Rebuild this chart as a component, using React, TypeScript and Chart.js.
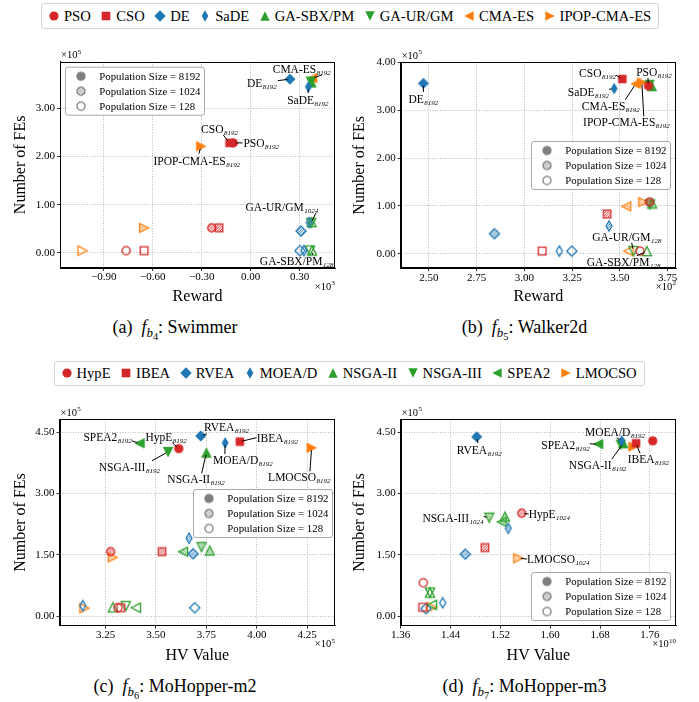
import React, { useEffect, useRef } from 'react';
import { Chart, registerables } from 'chart.js';

Chart.register(...registerables);

const SERIF = "'Liberation Serif', 'Times New Roman', Times, serif";

// ---------------- data ----------------
const rlAlgorithms = ['PSO', 'CSO', 'DE', 'SaDE', 'GA-SBX/PM', 'GA-UR/GM', 'CMA-ES', 'IPOP-CMA-ES'];
const moAlgorithms = ['HypE', 'IBEA', 'RVEA', 'MOEA/D', 'NSGA-II', 'NSGA-III', 'SPEA2', 'LMOCSO'];
const populationSizes = [8192, 1024, 128];

// (a) Swimmer: reward, number of FEs
const swimmerReward8192 = [-107, -130, 240, 353, 372, 368, 377, -304];
const swimmerFEs8192 = [228000, 228000, 360000, 344000, 353000, 355000, 362000, 221000];
const swimmerReward1024 = [-239, -194, 308, 358, 373, 370, null, -653];
const swimmerFEs1024 = [52000, 52000, 45500, 63000, 64000, 62000, null, 52000];
const swimmerReward128 = [-763, -653, 302, 326, 375, 363, null, -1030];
const swimmerFEs128 = [4800, 4800, 4800, 4800, 5000, 5000, null, 4800];

// (b) Walker2d
const walkerReward8192 = [364.9, 351.3, 247.1, 347.0, 366.7, 365.5, 358.3, 361.5];
const walkerFEs8192 = [351000, 365000, 356000, 345000, 350000, 353000, 355000, 358000];
const walkerReward1024 = [365.5, 343.3, 284.3, 344.3, 366.9, 365.8, 353.3, 362.3];
const walkerFEs1024 = [108000, 83000, 42000, 58000, 105000, 103000, 99000, 108000];
const walkerReward128 = [360.6, 309.3, 324.8, 318.3, 364.1, 357.1, 354.5, null];
const walkerFEs128 = [5600, 5600, 5600, 5600, 5600, 5600, 5600, null];

// (c) MoHopper-m2: HV value, number of FEs
const m2HV8192 = [361300, 391600, 372200, 384300, 375000, 356000, 341900, 427200];
const m2FEs8192 = [410000, 427000, 441000, 424000, 400000, 402000, 423000, 412000];
const m2HV1024 = [327500, 353000, 368400, 366400, 376700, 372600, 363400, 328600];
const m2FEs1024 = [158000, 158000, 153000, 191000, 161000, 169000, 158000, 144000];
const m2HV128 = [331100, 332500, 369200, 313700, 328600, 335000, 340000, 314500];
const m2FEs128 = [21000, 21000, 21000, 26000, 22000, 25000, 21000, 20000];

// (d) MoHopper-m3
const m3HV8192 = [1.7646e10, 1.7378e10, 1.482e10, 1.7148e10, 1.7174e10, 1.7132e10, 1.6772e10, 1.7334e10];
const m3FEs8192 = [429000, 423000, 439000, 429000, 423000, 420000, 421000, 415000];
const m3HV1024 = [1.5543e10, 1.4953e10, 1.4637e10, 1.5327e10, 1.5274e10, 1.5022e10, 1.5221e10, 1.5488e10];
const m3FEs1024 = [252000, 168000, 152000, 215000, 244000, 241000, 231000, 142000];
const m3HV128 = [1.3963e10, 1.3953e10, 1.4006e10, 1.4274e10, 1.407e10, 1.407e10, 1.41e10, 1.41e10];
const m3FEs128 = [82000, 22000, 19000, 33000, 58000, 58000, 28000, 22000];

// tick values
const swimmerRewardTicks = [-900, -600, -300, 0, 300];
const swimmerFEsTicks = [0, 100000, 200000, 300000];
const walkerRewardTicks = [250, 275, 300, 325, 350, 375];
const walkerFEsTicks = [0, 100000, 200000, 300000, 400000];
const m2HVTicks = [325000, 350000, 375000, 400000, 425000];
const m3HVTicks = [1.36e10, 1.44e10, 1.52e10, 1.6e10, 1.68e10, 1.76e10];
const moFEsTicks = [0, 150000, 300000, 450000];

// ---------------- styles ----------------
const RED = '#d62728';
const BLUE = '#1f77b4';
const GREEN = '#2ca02c';
const ORANGE = '#ff7f0e';
const GRAY = '#7f7f7f';

const rlStyles = [['circle', RED], ['square', RED], ['diamond', BLUE], ['thin', BLUE], ['up', GREEN], ['down', GREEN], ['left', ORANGE], ['right', ORANGE]];
const moStyles = [['circle', RED], ['square', RED], ['diamond', BLUE], ['thin', BLUE], ['up', GREEN], ['down', GREEN], ['left', GREEN], ['right', ORANGE]];
const fillBySize = { 8192: 'solid', 1024: 'hatch', 128: 'open' };

// annotation placements (pixel offsets of the label centre from its point)
const swimmerNotes = [
  { algo: 'CMA-ES', size: 8192, dx: -10.6, dy: -9.2, rel: [0.85, 1] },
  { algo: 'DE', size: 8192, dx: -28, dy: 3.5 },
  { algo: 'SaDE', size: 8192, dx: -0.5, dy: 13 },
  { algo: 'CSO', size: 8192, dx: -10, dy: -14, rel: [0.6, 1] },
  { algo: 'PSO', size: 8192, dx: 28, dy: 0 },
  { algo: 'IPOP-CMA-ES', size: 8192, dx: -4.3, dy: 14.4 },
  { algo: 'GA-UR/GM', size: 1024, dx: -29.3, dy: -16.4, rel: [0.97, 1] },
  { algo: 'GA-SBX/PM', size: 128, dx: -15.3, dy: 10.4, rel: [0.72, 0] },
];
const walkerNotes = [
  { algo: 'DE', size: 8192, dx: 0, dy: 15.6 },
  { algo: 'CSO', size: 8192, dx: -24.8, dy: -6.3, rel: [1, 0.7] },
  { algo: 'SaDE', size: 8192, dx: -25.7, dy: 3.1, rel: [1, 0.3] },
  { algo: 'CMA-ES', size: 8192, dx: -24.9, dy: 21.9, rel: [0.75, 0] },
  { algo: 'IPOP-CMA-ES', size: 8192, dx: -15.4, dy: 39.9, rel: [0.7, 0] },
  { algo: 'PSO', size: 8192, dx: 5.7, dy: -14, rel: [0.33, 1] },
  { algo: 'GA-UR/GM', size: 128, dx: -6.6, dy: -14.3, rel: [0.57, 1] },
  { algo: 'GA-SBX/PM', size: 128, dx: -23.2, dy: 10.7, rel: [0.68, 0] },
];
const m2Notes = [
  { algo: 'SPEA2', size: 8192, dx: -32, dy: -6.6, rel: [1, 0.85] },
  { algo: 'HypE', size: 8192, dx: -12.7, dy: -11.9, rel: [0.65, 1] },
  { algo: 'NSGA-III', size: 8192, dx: -38.7, dy: 14.8, rel: [0.87, 0] },
  { algo: 'RVEA', size: 8192, dx: 25.7, dy: -9.2 },
  { algo: 'IBEA', size: 8192, dx: 37.5, dy: -4, rel: [0, 0.5] },
  { algo: 'MOEA/D', size: 8192, dx: 17.7, dy: 17.1, rel: [0.2, 0] },
  { algo: 'NSGA-II', size: 8192, dx: -10.4, dy: 26.6, rel: [0.6, 0] },
  { algo: 'LMOCSO', size: 8192, dx: -12.3, dy: 29.5, rel: [0.67, 0] },
];
const m3Notes = [
  { algo: 'RVEA', size: 8192, dx: 2.5, dy: 13.3 },
  { algo: 'MOEA/D', size: 8192, dx: -6.7, dy: -9.1, rel: [0.53, 1] },
  { algo: 'SPEA2', size: 8192, dx: -32.8, dy: 0.9, rel: [1, 0.4] },
  { algo: 'NSGA-II', size: 8192, dx: -25.8, dy: 21.7, rel: [0.75, 0] },
  { algo: 'IBEA', size: 8192, dx: 12.3, dy: 16, rel: [0.3, 0] },
  { algo: 'NSGA-III', size: 1024, dx: -36.3, dy: 0, rel: [1, 0.4] },
  { algo: 'HypE', size: 1024, dx: 27.6, dy: 0.8, rel: [0, 0.5] },
  { algo: 'LMOCSO', size: 1024, dx: 40, dy: 0.8, rel: [0, 0.5] },
];

// ---------------- marker images ----------------
const markerCache = new Map();

function tracePath(g, shape) {
  g.beginPath();
  const poly = (pts) => {
    g.moveTo(pts[0][0], pts[0][1]);
    for (let i = 1; i < pts.length; i++) g.lineTo(pts[i][0], pts[i][1]);
    g.closePath();
  };
  switch (shape) {
    case 'circle': g.arc(0, 0, 4.1, 0, Math.PI * 2); break;
    case 'square': g.rect(-3.8, -3.8, 7.6, 7.6); break;
    case 'diamond': poly([[0, -5.1], [5.1, 0], [0, 5.1], [-5.1, 0]]); break;
    case 'thin': poly([[0, -5.1], [3.0, 0], [0, 5.1], [-3.0, 0]]); break;
    case 'up': poly([[0, -4.6], [4.6, 4.6], [-4.6, 4.6]]); break;
    case 'down': poly([[0, 4.6], [4.6, -4.6], [-4.6, -4.6]]); break;
    case 'left': poly([[-4.6, 0], [4.6, -4.6], [4.6, 4.6]]); break;
    case 'right': poly([[4.6, 0], [-4.6, -4.6], [-4.6, 4.6]]); break;
    default: g.arc(0, 0, 4, 0, Math.PI * 2);
  }
}

function getMarker(shape, color, fill) {
  const key = shape + color + fill;
  if (markerCache.has(key)) return markerCache.get(key);
  const size = 18;
  const c = document.createElement('canvas');
  c.width = size;
  c.height = size;
  const g = c.getContext('2d');
  g.translate(size / 2, size / 2);
  tracePath(g, shape);
  if (fill === 'solid') {
    g.fillStyle = color;
    g.fill();
    g.strokeStyle = color;
    g.lineWidth = 1;
    g.stroke();
  } else if (fill === 'hatch') {
    g.save();
    g.clip();
    g.strokeStyle = color;
    g.lineWidth = 1;
    for (let k = -22; k <= 22; k += 2.6) {
      g.beginPath();
      g.moveTo(k - 9, 9);
      g.lineTo(k + 9, -9);
      g.stroke();
    }
    g.restore();
    tracePath(g, shape);
    g.strokeStyle = color;
    g.lineWidth = 1.2;
    g.stroke();
  } else {
    g.strokeStyle = color;
    g.lineWidth = 1.3;
    g.stroke();
  }
  markerCache.set(key, c);
  return c;
}

// ---------------- drawing helpers ----------------
function drawLabel(ctx, main, sub, cx, cy) {
  ctx.font = `11.5px ${SERIF}`;
  const wm = ctx.measureText(main).width;
  ctx.font = `italic 7px ${SERIF}`;
  const ws = ctx.measureText(sub).width;
  const w = wm + ws + 0.5;
  const left = cx - w / 2;
  const base = cy + 4;
  ctx.fillStyle = '#000';
  ctx.textAlign = 'left';
  ctx.textBaseline = 'alphabetic';
  ctx.font = `11.5px ${SERIF}`;
  ctx.fillText(main, left, base);
  ctx.font = `italic 7px ${SERIF}`;
  ctx.fillText(sub, left + wm + 0.5, base + 2);
  return { x: left, y: cy - 6, w, h: 12 };
}

function drawExp(ctx, exp, x, baseline, align) {
  ctx.font = `10.5px ${SERIF}`;
  const w1 = ctx.measureText('\u00d710').width;
  ctx.font = `7px ${SERIF}`;
  const w2 = ctx.measureText(exp).width;
  const left = align === 'right' ? x - w1 - w2 - 0.3 : x;
  ctx.fillStyle = '#000';
  ctx.textAlign = 'left';
  ctx.textBaseline = 'alphabetic';
  ctx.font = `10.5px ${SERIF}`;
  ctx.fillText('\u00d710', left, baseline);
  ctx.font = `7px ${SERIF}`;
  ctx.fillText(exp, left + w1 + 0.3, baseline - 4.5);
}

function drawPopLegend(ctx, x, y) {
  const w = 139;
  const h = 48;
  ctx.save();
  ctx.beginPath();
  ctx.roundRect(x + 0.5, y + 0.5, w, h, 2.5);
  ctx.fillStyle = 'rgba(255,255,255,0.8)';
  ctx.fill();
  ctx.strokeStyle = '#a8a8a8';
  ctx.lineWidth = 1;
  ctx.stroke();
  populationSizes.forEach((n, i) => {
    const cy = y + 9.5 + i * 15;
    ctx.drawImage(getMarker('circle', GRAY, fillBySize[n]), x + 16 - 9, cy - 9);
    ctx.font = `10.8px ${SERIF}`;
    ctx.fillStyle = '#000';
    ctx.textAlign = 'left';
    ctx.textBaseline = 'middle';
    ctx.fillText(`Population Size = ${n}`, x + 34.3, cy + 0.5);
  });
  ctx.restore();
}

function decorPlugin(p) {
  return {
    id: 'decor',
    afterDatasetsDraw(chart) {
      const { ctx, chartArea: ca } = chart;
      const xs = chart.scales.x;
      const ys = chart.scales.y;
      ctx.save();
      // frame
      ctx.strokeStyle = '#000';
      ctx.lineWidth = 1;
      const l = Math.round(ca.left) + 0.5;
      const t = Math.round(ca.top) + 0.5;
      const r = Math.round(ca.right) - 0.5;
      const b = Math.round(ca.bottom) - 0.5;
      ctx.strokeRect(l, t, r - l, b - t);
      // annotations
      for (const a of p.notes) {
        const i = p.algorithms.indexOf(a.algo);
        const s = p.series[a.size];
        const px = xs.getPixelForValue(s.x[i]);
        const py = ys.getPixelForValue(s.y[i]);
        const cx = px + a.dx;
        const cy = py + a.dy;
        const box = drawLabel(ctx, a.algo, String(a.size), cx, cy);
        let sx;
        let sy;
        if (a.rel) {
          sx = box.x + a.rel[0] * box.w;
          sy = box.y + a.rel[1] * box.h;
        } else {
          const ddx = px - cx;
          const ddy = py - cy;
          const hw = box.w / 2 + 1;
          const hh = box.h / 2 + 1;
          const tx = ddx !== 0 ? hw / Math.abs(ddx) : Infinity;
          const ty = ddy !== 0 ? hh / Math.abs(ddy) : Infinity;
          const tt = Math.min(tx, ty);
          if (tt >= 1) continue;
          sx = cx + ddx * tt;
          sy = cy + ddy * tt;
        }
        const vx = px - sx;
        const vy = py - sy;
        const len = Math.hypot(vx, vy);
        if (len < 4) continue;
        const ex = px - (vx / len) * 2.5;
        const ey = py - (vy / len) * 2.5;
        ctx.beginPath();
        ctx.moveTo(sx, sy);
        ctx.lineTo(ex, ey);
        ctx.strokeStyle = '#000';
        ctx.lineWidth = 1;
        ctx.stroke();
      }
      // population legend
      const L = p.popLegend;
      let lx;
      let ly;
      if (L.anchor === 'tl') { lx = ca.left + L.ox; ly = ca.top + L.oy; }
      else if (L.anchor === 'tr') { lx = ca.right - L.ox - 139; ly = ca.top + L.oy; }
      else { lx = ca.right - L.ox - 139; ly = ca.bottom - L.oy - 48; }
      drawPopLegend(ctx, lx, ly);
      // exponent labels
      drawExp(ctx, p.yExp, ca.left + 1, ca.top - 3.5, 'left');
      drawExp(ctx, p.xExp, ca.right, ca.bottom + 21.5, 'right');
      ctx.restore();
    },
  };
}

const minus = (s) => s.replace('-', '\u2212');

function buildConfig(p) {
  const datasets = [];
  [128, 1024, 8192].forEach((size) => {
    const s = p.series[size];
    p.algorithms.forEach((name, i) => {
      if (s.x[i] == null || s.y[i] == null) return;
      const [shape, color] = p.styles[i];
      datasets.push({
        label: `${name} (${size})`,
        data: [{ x: s.x[i], y: s.y[i] }],
        pointStyle: getMarker(shape, color, fillBySize[size]),
        pointRadius: 5,
        pointHoverRadius: 5,
        showLine: false,
      });
    });
  });
  const gridCommon = {
    color: '#a6a6a6',
    lineWidth: 0.8,
    tickColor: '#000',
    tickLength: 3,
    tickWidth: 0.8,
    drawTicks: true,
  };
  const border = { display: true, color: '#000', width: 1, dash: [1, 1.6] };
  return {
    type: 'scatter',
    data: { datasets },
    options: {
      animation: false,
      responsive: false,
      events: [],
      layout: { padding: p.padding },
      plugins: { legend: { display: false }, tooltip: { enabled: false } },
      scales: {
        x: {
          type: 'linear',
          min: p.xRange[0],
          max: p.xRange[1],
          afterBuildTicks: (sc) => { sc.ticks = p.xTicks.map((v) => ({ value: v })); },
          afterFit: (sc) => { sc.height = p.xAxisHeight; },
          ticks: {
            callback: (v) => minus((v / p.xDiv).toFixed(2)),
            font: { family: SERIF, size: 11 },
            color: '#000',
            padding: 0,
            autoSkip: false,
            maxRotation: 0,
          },
          grid: gridCommon,
          border,
          title: {
            display: true,
            text: p.xTitle,
            color: '#000',
            font: { family: SERIF, size: 16 },
            padding: { top: 0, bottom: p.xTitlePad },
          },
        },
        y: {
          type: 'linear',
          min: p.yRange[0],
          max: p.yRange[1],
          afterBuildTicks: (sc) => { sc.ticks = p.yTicks.map((v) => ({ value: v })); },
          afterFit: (sc) => { sc.width = p.yAxisWidth; },
          ticks: {
            callback: (v) => minus((v / 1e5).toFixed(2)),
            font: { family: SERIF, size: 11 },
            color: '#000',
            padding: 2,
            autoSkip: false,
          },
          grid: gridCommon,
          border,
          title: {
            display: true,
            text: 'Number of FEs',
            color: '#000',
            font: { family: SERIF, size: 16 },
            padding: { top: p.yTitlePad, bottom: 0 },
          },
        },
      },
    },
    plugins: [decorPlugin(p)],
  };
}

const panels = [
  {
    key: 'a', left: 0, top: 40, w: 350, h: 270,
    algorithms: rlAlgorithms, styles: rlStyles,
    series: {
      8192: { x: swimmerReward8192, y: swimmerFEs8192 },
      1024: { x: swimmerReward1024, y: swimmerFEs1024 },
      128: { x: swimmerReward128, y: swimmerFEs128 },
    },
    xRange: [-1168, 516], yRange: [-31100, 396100],
    xTicks: swimmerRewardTicks, yTicks: swimmerFEsTicks, xDiv: 1e3,
    xTitle: 'Reward', xExp: '3', yExp: '5',
    padding: { top: 21.7, right: 15, left: 0, bottom: 0 },
    yAxisWidth: 60, xAxisHeight: 42, xTitlePad: 3.7, yTitlePad: 11,
    notes: swimmerNotes,
    popLegend: { anchor: 'tl', ox: 5, oy: 5 },
  },
  {
    key: 'b', left: 350, top: 40, w: 349, h: 270,
    algorithms: rlAlgorithms, styles: rlStyles,
    series: {
      8192: { x: walkerReward8192, y: walkerFEs8192 },
      1024: { x: walkerReward1024, y: walkerFEs1024 },
      128: { x: walkerReward128, y: walkerFEs128 },
    },
    xRange: [235.2, 379.4], yRange: [-30400, 400000],
    xTicks: walkerRewardTicks, yTicks: walkerFEsTicks, xDiv: 1e2,
    xTitle: 'Reward', xExp: '2', yExp: '5',
    padding: { top: 22.3, right: 23, left: 0, bottom: 0 },
    yAxisWidth: 50.7, xAxisHeight: 41.7, xTitlePad: 3.7, yTitlePad: 0.4,
    notes: walkerNotes,
    popLegend: { anchor: 'tr', ox: 6, oy: 78.7 },
  },
  {
    key: 'c', left: 0, top: 395, w: 350, h: 270,
    algorithms: moAlgorithms, styles: moStyles,
    series: {
      8192: { x: m2HV8192, y: m2FEs8192 },
      1024: { x: m2HV1024, y: m2FEs1024 },
      128: { x: m2HV128, y: m2FEs128 },
    },
    xRange: [302140, 438800], yRange: [-23000, 481700],
    xTicks: m2HVTicks, yTicks: moFEsTicks, xDiv: 1e5,
    xTitle: 'HV Value', xExp: '5', yExp: '5',
    padding: { top: 24.3, right: 15, left: 0, bottom: 0 },
    yAxisWidth: 59.5, xAxisHeight: 39.3, xTitlePad: 0, yTitlePad: 11,
    notes: m2Notes,
    popLegend: { anchor: 'tr', ox: 3, oy: 69.7 },
  },
  {
    key: 'd', left: 350, top: 395, w: 349, h: 270,
    algorithms: moAlgorithms, styles: moStyles,
    series: {
      8192: { x: m3HV8192, y: m3FEs8192 },
      1024: { x: m3HV1024, y: m3FEs1024 },
      128: { x: m3HV128, y: m3FEs128 },
    },
    xRange: [1.36e10, 1.802e10], yRange: [-23000, 481700],
    xTicks: m3HVTicks, yTicks: moFEsTicks, xDiv: 1e10,
    xTitle: 'HV Value', xExp: '10', yExp: '5',
    padding: { top: 24.3, right: 23, left: 0, bottom: 0 },
    yAxisWidth: 50.7, xAxisHeight: 39.3, xTitlePad: 0, yTitlePad: 0.4,
    notes: m3Notes,
    popLegend: { anchor: 'br', ox: 6, oy: 5.7 },
  },
];

function Panel({ p }) {
  const ref = useRef(null);
  useEffect(() => {
    const chart = new Chart(ref.current, buildConfig(p));
    return () => chart.destroy();
  }, [p]);
  return (
    <canvas
      ref={ref}
      width={p.w}
      height={p.h}
      style={{ position: 'absolute', left: p.left, top: p.top, width: p.w, height: p.h }}
    />
  );
}

function Glyph({ shape, color }) {
  let el;
  switch (shape) {
    case 'circle': el = <circle cx={0} cy={0} r={4.6} fill={color} />; break;
    case 'square': el = <rect x={-4.3} y={-4.3} width={8.6} height={8.6} fill={color} />; break;
    case 'diamond': el = <polygon points="0,-5.7 5.7,0 0,5.7 -5.7,0" fill={color} />; break;
    case 'thin': el = <polygon points="0,-5.7 3.3,0 0,5.7 -3.3,0" fill={color} />; break;
    case 'up': el = <polygon points="0,-4.7 4.7,4.7 -4.7,4.7" fill={color} />; break;
    case 'down': el = <polygon points="0,4.7 4.7,-4.7 -4.7,-4.7" fill={color} />; break;
    case 'left': el = <polygon points="-4.7,0 4.7,-4.7 4.7,4.7" fill={color} />; break;
    default: el = <polygon points="4.7,0 -4.7,-4.7 -4.7,4.7" fill={color} />;
  }
  return (
    <svg width={12} height={12} viewBox="-6 -6 12 12" style={{ display: 'block', flex: 'none' }}>
      {el}
    </svg>
  );
}

function TopLegend({ names, styles, left, top, height }) {
  return (
    <div
      style={{
        position: 'absolute', left, top, height, boxSizing: 'border-box',
        border: '1px solid #d3d3d3', borderRadius: 3, display: 'flex', alignItems: 'center',
        padding: '0 7px 0 6px', font: `14.6px ${SERIF}`, whiteSpace: 'nowrap', background: '#fff', color: '#000',
      }}
    >
      {names.map((name, i) => (
        <div key={name} style={{ display: 'flex', alignItems: 'center', marginLeft: i ? 9.5 : 0 }}>
          <Glyph shape={styles[i][0]} color={styles[i][1]} />
          <span style={{ marginLeft: 4 }}>{name}</span>
        </div>
      ))}
    </div>
  );
}

function Caption({ tag, sub, name, left, top }) {
  return (
    <div style={{ position: 'absolute', left, top, width: 350, textAlign: 'center', font: `18px ${SERIF}`, lineHeight: '20px', color: '#000', whiteSpace: 'nowrap' }}>
      ({tag})
      <span style={{ fontStyle: 'italic', marginLeft: 9 }}>f</span>
      <span style={{ fontStyle: 'italic', fontSize: '0.72em', position: 'relative', top: '0.3em' }}>
        b<span style={{ fontStyle: 'normal', fontSize: '0.8em', position: 'relative', top: '0.3em' }}>{sub}</span>
      </span>
      : {name}
    </div>
  );
}

export default function App() {
  return (
    <div style={{ position: 'absolute', left: 0, top: 0, width: 699, height: 702, background: '#fff', overflow: 'hidden' }}>
      <TopLegend names={rlAlgorithms} styles={rlStyles} left={41} top={3} height={26} />
      {panels.map((p) => <Panel key={p.key} p={p} />)}
      <Caption tag="a" sub="4" name="Swimmer" left={0} top={317} />
      <Caption tag="b" sub="5" name="Walker2d" left={349.5} top={317} />
      <TopLegend names={moAlgorithms} styles={moStyles} left={53.5} top={360.5} height={25} />
      <Caption tag="c" sub="6" name="MoHopper-m2" left={0} top={676} />
      <Caption tag="d" sub="7" name="MoHopper-m3" left={349.5} top={676} />
    </div>
  );
}
